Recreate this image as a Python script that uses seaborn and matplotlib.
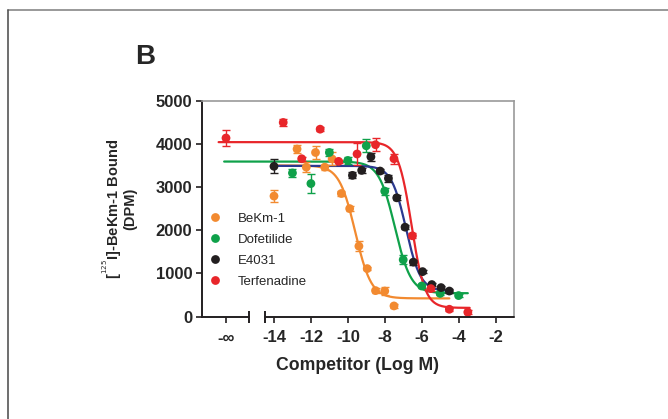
import numpy as np
import pandas as pd
import seaborn as sns
import matplotlib.pyplot as plt
from matplotlib.lines import Line2D

# x position used for the "-inf" (no competitor) point
X_NEG_INF = -16.6

# BeKm-1
bekm_x = [-14.0, -12.75, -12.25, -11.75, -11.25, -10.85, -10.35, -9.9, -9.4, -8.95, -8.5, -8.0, -7.5]
bekm_y = [2790, 3880, 3460, 3800, 3460, 3650, 2850, 2500, 1630, 1110, 600, 590, 245]
bekm_err = [130, 100, 120, 140, 60, 150, 60, 60, 110, 40, 60, 100, 40]

# Dofetilide
dof_x = [-13.0, -12.0, -11.0, -10.0, -9.0, -8.0, -7.0, -6.0, -5.0, -4.0]
dof_y = [3325, 3080, 3800, 3615, 3955, 2905, 1315, 707, 535, 485]
dof_err = [100, 220, 90, 80, 150, 80, 100, 50, 40, 40]

# E4031
e40_x = [-14.0, -9.75, -9.25, -8.75, -8.25, -7.8, -7.35, -6.9, -6.45, -5.95, -5.45, -4.95, -4.5]
e40_y = [3480, 3270, 3385, 3700, 3370, 3200, 2750, 2070, 1260, 1040, 740, 670, 590]
e40_err = [160, 70, 60, 90, 50, 80, 60, 50, 60, 40, 40, 40, 40]

# Terfenadine
ter_x = [X_NEG_INF, -13.5, -12.5, -11.5, -10.5, -9.5, -8.5, -7.5, -6.5, -5.5, -4.5, -3.5]
ter_y = [4135, 4495, 3655, 4340, 3594, 3765, 3980, 3655, 1870, 646, 168, 100]
ter_err = [185, 85, 50, 40, 40, 250, 150, 115, 60, 50, 40, 40]

# fitted one-site curves: top, bottom, logIC50, hill, x start, x end
fit_top = [3500, 3590, 3490, 4040]
fit_bottom = [420, 540, 590, 200]
fit_logic50 = [-9.6, -7.45, -6.85, -6.55]
fit_hill = [1.0, 1.0, 1.1, 1.2]
fit_start = [-14.0, -16.7, -14.0, -17.0]
fit_end = [-4.5, -3.5, -4.4, -3.4]

names = ["BeKm-1", "Dofetilide", "E4031", "Terfenadine"]
point_colors = ["#F28A30", "#0FA14A", "#231F20", "#E8262A"]
curve_colors = ["#F28A30", "#0FA14A", "#2B3990", "#E8262A"]

xticks = [X_NEG_INF, -14, -12, -10, -8, -6, -4, -2]
xtick_labels = ["-\u221e", "-14", "-12", "-10", "-8", "-6", "-4", "-2"]
yticks = [0, 1000, 2000, 3000, 4000, 5000]

sns.set_style("ticks")
plt.rcParams["font.family"] = ["Liberation Sans", "DejaVu Sans"]

# points table for seaborn
xs = [bekm_x, dof_x, e40_x, ter_x]
ys = [bekm_y, dof_y, e40_y, ter_y]
errs = [bekm_err, dof_err, e40_err, ter_err]
df = pd.concat([pd.DataFrame({"x": x, "y": y, "err": e, "compound": n})
                for x, y, e, n in zip(xs, ys, errs, names)], ignore_index=True)

fig = plt.figure(figsize=(6.68, 4.19), dpi=100)
ax = fig.add_axes([0.3024, 0.2446, 0.467, 0.5151])

# fit curves
for i, n in enumerate(names):
    cx = np.linspace(fit_start[i], fit_end[i], 300)
    cy = fit_bottom[i] + (fit_top[i] - fit_bottom[i]) / (1 + 10 ** ((cx - fit_logic50[i]) * fit_hill[i]))
    sns.lineplot(x=cx, y=cy, color=curve_colors[i], lw=1.6, ax=ax, zorder=2)

# error bars
for i, n in enumerate(names):
    d = df[df.compound == n]
    ax.errorbar(d.x, d.y, yerr=d.err, fmt="none", ecolor=point_colors[i],
                elinewidth=1.0, capsize=3, capthick=1.0, zorder=3)

# points
sns.scatterplot(data=df, x="x", y="y", hue="compound", palette=point_colors,
                s=40, edgecolor="none", linewidth=0, ax=ax, zorder=4)

ax.set_xlim(-17.9, -1.0)
ax.set_ylim(0, 5000)
ax.set_xticks(xticks)
ax.set_xticklabels(xtick_labels)
ax.set_yticks(yticks)
for lab in ax.get_xticklabels() + ax.get_yticklabels():
    lab.set_fontweight("bold")
    lab.set_fontsize(12)
ax.tick_params(axis="both", length=4, width=1.2, color="#231F20")
ax.tick_params(axis="x", pad=6)
ax.tick_params(axis="y", pad=3)

ax.set_xlabel("Competitor (Log M)", fontsize=12.7, fontweight="bold", labelpad=8)
ax.set_ylabel("[$^{^{125}}$I]-BeKm-1 Bound\n(DPM)", fontsize=10.5, fontweight="bold",
              labelpad=13, linespacing=1.0)

# spines: gray top/right, broken bottom axis
for s in ["top", "right"]:
    ax.spines[s].set_color("#999999")
    ax.spines[s].set_linewidth(1.2)
ax.spines["left"].set_color("#231F20")
ax.spines["left"].set_linewidth(1.4)
ax.spines["bottom"].set_visible(False)
brk = [-15.35, -14.49]
ax.plot([-17.9, brk[0]], [0, 0], color="#231F20", lw=1.4, clip_on=False, zorder=5)
ax.plot([brk[1], -1.0], [0, 0], color="#231F20", lw=1.4, clip_on=False, zorder=5)
ax.plot(brk, [0, 0], ls="none", marker="|", ms=8, mew=1.4, color="#231F20",
        clip_on=False, zorder=5)

leg = ax.legend(loc="upper left", bbox_to_anchor=(-0.03, 0.525), frameon=False,
                fontsize=9.5, labelspacing=0.66, handletextpad=0.7,
                borderaxespad=0.3, markerscale=1.0)

fig.text(0.217, 0.865, "B", fontsize=20, fontweight="bold", ha="center", va="center")

# figure frame (top and left edges)
fig.add_artist(Line2D([8 / 668, 1.0], [1 - 10 / 419, 1 - 10 / 419], color="#888888", lw=1.2))
fig.add_artist(Line2D([8 / 668, 8 / 668], [0.0, 1 - 10 / 419], color="#555555", lw=1.2))

fig.savefig("out.png", dpi=100)
